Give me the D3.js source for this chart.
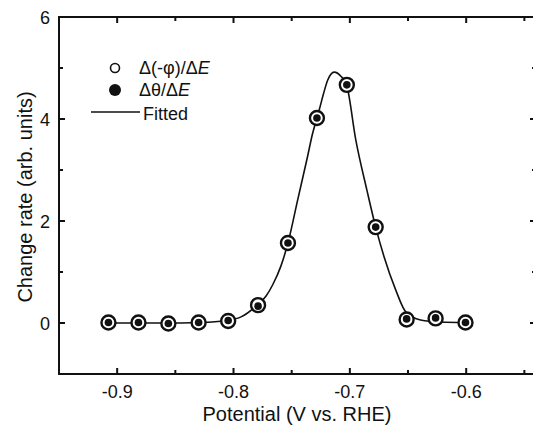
<!DOCTYPE html>
<html>
<head>
<meta charset="utf-8">
<script src="https://cdn.jsdelivr.net/npm/d3@7"></script>
<style>
  body { margin: 0; background: #fff; }
  text { font-family: "Liberation Sans", Arial, sans-serif; fill: #111; }
</style>
</head>
<body>
<svg id="chart" width="533" height="427"></svg>
<script>
// measured points (V vs RHE) and change rate
const potential = [-0.9075, -0.8817, -0.856, -0.830, -0.8046, -0.7789, -0.7532, -0.7283, -0.7026, -0.6778, -0.6512, -0.6263, -0.6006];
const phiRate = [0.01, 0.01, -0.01, 0.01, 0.04, 0.35, 1.57, 4.02, 4.67, 1.88, 0.07, 0.09, 0.01];
const thetaRate = [0.01, 0.01, -0.01, 0.01, 0.05, 0.33, 1.57, 4.02, 4.67, 1.88, 0.08, 0.10, 0.01];

// fitted curve
const fitX = [-0.9075, -0.862, -0.8277, -0.8063, -0.7935, -0.7798, -0.772, -0.7663, -0.7592, -0.7532,
  -0.7446, -0.7363, -0.7323, -0.7283, -0.7263, -0.7226, -0.7191, -0.7135, -0.7077, -0.7026,
  -0.6949, -0.6854, -0.6778, -0.6706, -0.6606, -0.652, -0.6392, -0.622, -0.6003];
const fitY = [0.0, 0.0, 0.01, 0.05, 0.12, 0.35, 0.53, 0.75, 1.12, 1.57,
  2.44, 3.27, 3.69, 4.02, 4.18, 4.50, 4.76, 4.92, 4.84, 4.65,
  3.59, 2.61, 1.88, 1.30, 0.65, 0.22, 0.06, 0.02, 0.01];

const xTicks = [-0.9, -0.8, -0.7, -0.6];
const xMinor = [-0.95, -0.85, -0.75, -0.65, -0.55];
const yTicks = [0, 2, 4, 6];
const yMinor = [-1, 1, 3, 5];

const legendItems = ["Δ(-φ)/Δ", "Δθ/Δ", "Fitted"];

const margin = { left: 59, top: 17, right: 536, bottom: 374 };

const svg = d3.select("#chart");
const x = d3.scaleLinear().domain([-0.95, -0.54]).range([margin.left, margin.right]);
const y = d3.scaleLinear().domain([-1, 6]).range([margin.bottom, margin.top]);

// frame
svg.append("rect")
  .attr("x", margin.left).attr("y", margin.top)
  .attr("width", margin.right - margin.left).attr("height", margin.bottom - margin.top)
  .attr("fill", "none").attr("stroke", "#111").attr("stroke-width", 2);

// inward ticks on all four sides
const tickG = svg.append("g").attr("stroke", "#111").attr("stroke-width", 2);
function vTicks(vals, len) {
  vals.forEach(v => {
    tickG.append("line").attr("x1", x(v)).attr("x2", x(v))
      .attr("y1", margin.bottom).attr("y2", margin.bottom - len);
    tickG.append("line").attr("x1", x(v)).attr("x2", x(v))
      .attr("y1", margin.top).attr("y2", margin.top + len);
  });
}
function hTicks(vals, len) {
  vals.forEach(v => {
    tickG.append("line").attr("y1", y(v)).attr("y2", y(v))
      .attr("x1", margin.left).attr("x2", margin.left + len);
    tickG.append("line").attr("y1", y(v)).attr("y2", y(v))
      .attr("x1", margin.right).attr("x2", margin.right - len);
  });
}
vTicks(xTicks, 6);
vTicks(xMinor, 4);
hTicks(yTicks, 6);
hTicks(yMinor, 4);

// tick labels
svg.append("g").selectAll("text").data(xTicks).join("text")
  .attr("x", d => x(d)).attr("y", 398)
  .attr("text-anchor", "middle").style("font-size", "18px")
  .text(d => d.toFixed(1));

svg.append("g").selectAll("text").data(yTicks).join("text")
  .attr("x", 50).attr("y", d => y(d) + 6.5)
  .attr("text-anchor", "end").style("font-size", "18px")
  .text(d => d);

// axis titles
svg.append("text")
  .attr("x", 297).attr("y", 421)
  .attr("text-anchor", "middle").style("font-size", "20px")
  .text("Potential (V vs. RHE)");

svg.append("text")
  .attr("transform", "translate(32,197) rotate(-90)")
  .attr("text-anchor", "middle").style("font-size", "20px")
  .text("Change rate (arb. units)");

// fitted line
const fitData = fitX.map((v, i) => [v, fitY[i]]);
svg.append("path")
  .datum(fitData)
  .attr("fill", "none").attr("stroke", "#111").attr("stroke-width", 1.6)
  .attr("d", d3.line().x(d => x(d[0])).y(d => y(d[1])).curve(d3.curveMonotoneX));

// markers
svg.append("g").selectAll("circle").data(potential).join("circle")
  .attr("cx", d => x(d)).attr("cy", (d, i) => y(phiRate[i]))
  .attr("r", 7).attr("fill", "#fff").attr("stroke", "#111").attr("stroke-width", 2.4);

svg.append("g").selectAll("circle").data(potential).join("circle")
  .attr("cx", d => x(d)).attr("cy", (d, i) => y(thetaRate[i]))
  .attr("r", 3.8).attr("fill", "#111");

// legend
const lg = svg.append("g");
lg.append("circle").attr("cx", 115).attr("cy", 68).attr("r", 4.5)
  .attr("fill", "#fff").attr("stroke", "#111").attr("stroke-width", 1.6);
lg.append("circle").attr("cx", 115).attr("cy", 90).attr("r", 6).attr("fill", "#111");
lg.append("line").attr("x1", 91).attr("x2", 140).attr("y1", 112).attr("y2", 112)
  .attr("stroke", "#111").attr("stroke-width", 1.6);

const rows = [74, 96, 120];
legendItems.forEach((t, i) => {
  const tx = lg.append("text").attr("x", i === 2 ? 143 : 139).attr("y", rows[i])
    .style("font-size", "18px").text(t);
  if (i < 2) tx.append("tspan").style("font-style", "italic").text("E");
});
</script>
</body>
</html>
